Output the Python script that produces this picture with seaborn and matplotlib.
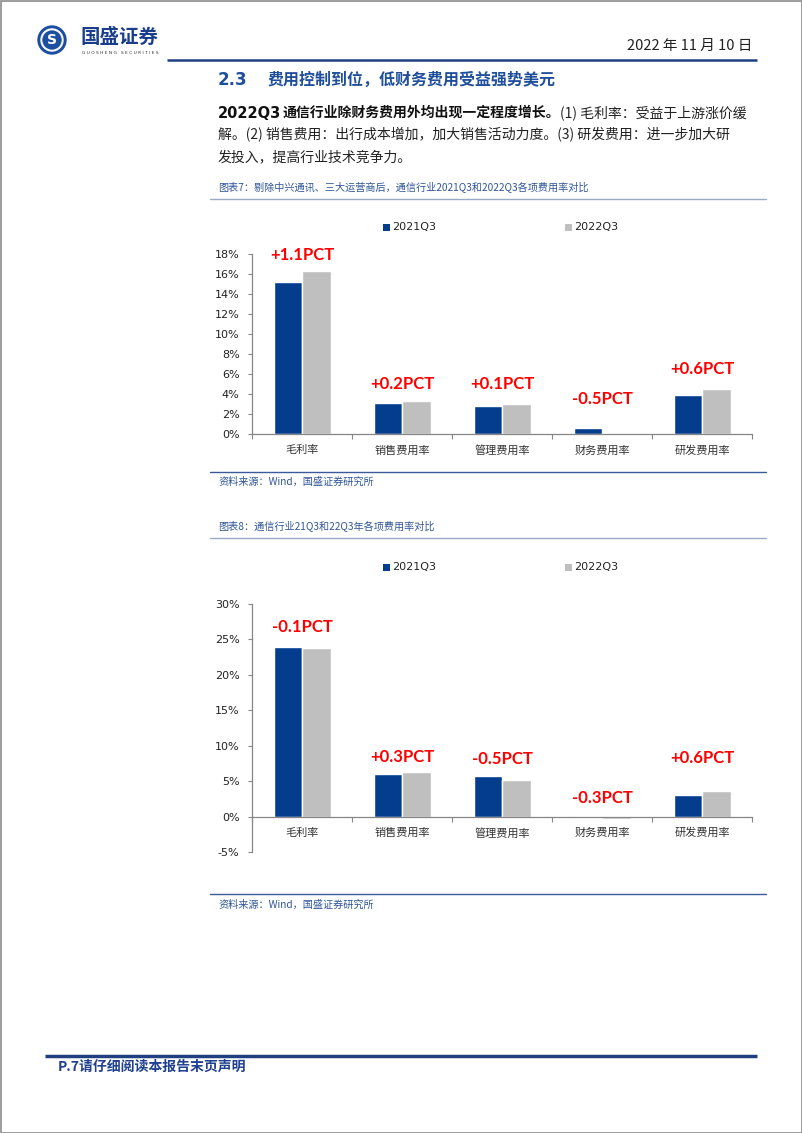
import numpy as np
import pandas as pd
import matplotlib
matplotlib.use("Agg")
import matplotlib.pyplot as plt
import seaborn as sns
from matplotlib.patches import Rectangle, Circle

# ---------------- data ----------------
ITEMS = ["毛利率", "销售费用率", "管理费用率", "财务费用率", "研发费用率"]
PERIODS = ["2021Q3", "2022Q3"]

CHART1_2021 = [15.2, 3.1, 2.85, 0.65, 3.9]
CHART1_2022 = [16.3, 3.35, 3.05, 0.15, 4.47]
CHART1_LABELS = ["+1.1PCT", "+0.2PCT", "+0.1PCT", "-0.5PCT", "+0.6PCT"]

CHART2_2021 = [24.0, 6.0, 5.75, 0.02, 3.05]
CHART2_2022 = [23.85, 6.25, 5.15, -0.3, 3.55]
CHART2_LABELS = ["-0.1PCT", "+0.3PCT", "-0.5PCT", "-0.3PCT", "+0.6PCT"]

Y1_TICKS = [0, 2, 4, 6, 8, 10, 12, 14, 16, 18]
Y2_TICKS = [-5, 0, 5, 10, 15, 20, 25, 30]

# layout-only: heights at which the PCT notes sit (in axis units)
NOTE1_Y = [17.9, 5.0, 5.0, 3.5, 6.5]
NOTE2_Y = [26.8, 8.4, 8.1, 2.6, 8.3]

# ---------------- style ----------------
sns.set_style("ticks")
plt.rcParams["font.family"] = ["Noto Sans CJK SC", "DejaVu Sans"]
plt.rcParams["axes.unicode_minus"] = False

BLUE = "#043C8E"
GREY = "#BFBFBF"
RED = "#FF0000"
NAVY = "#1F3F80"
TITLE_BLUE = "#1F4E9A"
CAP_BLUE = "#2F5597"
AXIS_GREY = "#868686"

W, H = 802, 1133
fig = plt.figure(figsize=(W / 100, H / 100), dpi=100)
fig.patch.set_facecolor("white")

# overlay axes in pixel coordinates
ax0 = fig.add_axes([0, 0, 1, 1])
ax0.set_xlim(0, W)
ax0.set_ylim(H, 0)
ax0.axis("off")

# page border
ax0.add_patch(Rectangle((0.5, 0.5), W - 1, H - 1, fill=False, ec="#8C8C8C", lw=1.2))

# ---- header ----
ax0.add_patch(Circle((52, 40), 14, color="#1D4FA0"))
ax0.add_patch(Circle((52, 40), 11, color="white"))
ax0.add_patch(Circle((52, 40), 9, color="#1D4FA0"))
ax0.text(52, 40.5, "S", color="white", fontsize=10, fontweight="bold",
         ha="center", va="center", family="DejaVu Sans")
ax0.text(81, 37, "国盛证券", fontsize=14, fontweight="bold", color="#1A3E8C",
         ha="left", va="center")
ax0.text(82, 52.5, "G U O S H E N G   S E C U R I T I E S", fontsize=3.2,
         color="#333333", ha="left", va="center", family="DejaVu Sans")
ax0.text(752, 46, "2022 年 11 月 10 日", fontsize=10.5, color="#222222",
         ha="right", va="center")
ax0.plot([167, 757], [59.5, 59.5], color=NAVY, lw=1.8, solid_capstyle="butt")

# ---- section title ----
ax0.text(218, 80, "2.3", fontsize=12, fontweight="bold", color=TITLE_BLUE,
         ha="left", va="center", family="DejaVu Sans")
ax0.text(268, 80, "费用控制到位，低财务费用受益强势美元", fontsize=11.5,
         fontweight="bold", color=TITLE_BLUE, ha="left", va="center")

# ---- paragraph ----
fig.canvas.draw()
renderer = fig.canvas.get_renderer()


def chain(x, y, s, **kw):
    t = ax0.text(x, y, s, ha="left", va="center", **kw)
    bb = t.get_window_extent(renderer=renderer)
    return bb.x1


PFS = 10
x = chain(218, 113, "2022Q3", fontsize=PFS + 0.5, fontweight="bold", color="#111111",
          family="DejaVu Sans")
x = chain(x + 1, 113, "通信行业除财务费用外均出现一定程度增长。", fontsize=PFS,
          fontweight="bold", color="#111111")
chain(x, 113, "(1) 毛利率：受益于上游涨价缓", fontsize=PFS, color="#222222")
ax0.text(218, 135, "解。(2) 销售费用：出行成本增加，加大销售活动力度。(3) 研发费用：进一步加大研",
         fontsize=PFS, color="#222222", ha="left", va="center")
ax0.text(218, 157, "发投入，提高行业技术竞争力。", fontsize=PFS, color="#222222",
         ha="left", va="center")

# ---- captions / sources ----
CAP_FS = 7.3
ax0.text(218, 187, "图表7：剔除中兴通讯、三大运营商后，通信行业2021Q3和2022Q3各项费用率对比",
         fontsize=CAP_FS, color=CAP_BLUE, ha="left", va="center")
ax0.plot([210, 766], [199, 199], color="#9AAAC6", lw=1)
ax0.plot([210, 766], [472, 472], color="#3A5A9A", lw=1)
ax0.text(218, 482, "资料来源：Wind，国盛证券研究所", fontsize=CAP_FS, color=CAP_BLUE,
         ha="left", va="center")

ax0.text(218, 526, "图表8：通信行业21Q3和22Q3年各项费用率对比",
         fontsize=CAP_FS, color=CAP_BLUE, ha="left", va="center")
ax0.plot([210, 766], [538, 538], color="#9AAAC6", lw=1)
ax0.plot([210, 766], [894, 894], color="#3A5A9A", lw=1)
ax0.text(218, 905, "资料来源：Wind，国盛证券研究所", fontsize=CAP_FS, color=CAP_BLUE,
         ha="left", va="center")

# legends (drawn from PERIODS)
for ly in (227, 567):
    for px, name, col in zip((383, 565), PERIODS, (BLUE, GREY)):
        ax0.add_patch(Rectangle((px, ly - 3.5), 7, 7, color=col, lw=0))
        ax0.text(px + 9, ly, name, fontsize=8, color="#222222", ha="left",
                 va="center", family="DejaVu Sans")

# ---- footer ----
ax0.plot([45, 757], [1055.5, 1055.5], color=NAVY, lw=2.5, solid_capstyle="butt")
ax0.text(58, 1067, "P.7请仔细阅读本报告末页声明", fontsize=10, fontweight="bold",
         color="#1F3F8F", ha="left", va="center")


# ---------------- charts ----------------
def make_df(v21, v22):
    return pd.DataFrame({
        "item": ITEMS * 2,
        "period": [PERIODS[0]] * len(ITEMS) + [PERIODS[1]] * len(ITEMS),
        "value": list(v21) + list(v22),
    })


def style_axis(ax, yticks, ylim, zero_spine):
    for s in ("top", "right"):
        ax.spines[s].set_visible(False)
    for s in ("left", "bottom"):
        ax.spines[s].set_color(AXIS_GREY)
        ax.spines[s].set_linewidth(0.9)
    if zero_spine:
        ax.spines["bottom"].set_position(("data", 0))
    ax.set_ylim(*ylim)
    ax.set_xlim(-0.5, len(ITEMS) - 0.5)
    ax.set_yticks(yticks)
    ax.set_yticklabels([f"{t}%" for t in yticks], fontsize=8, color="#222222",
                       family="DejaVu Sans")
    ax.set_xlabel("")
    ax.set_ylabel("")
    ax.set_xticks(range(len(ITEMS)))
    ax.set_xticklabels(ITEMS, fontsize=8, color="#333333")
    ax.set_xticks(np.arange(-0.5, len(ITEMS), 1.0), minor=True)
    ax.tick_params(axis="x", which="major", length=0, pad=8)
    ax.tick_params(axis="x", which="minor", length=3.5, direction="out",
                   color=AXIS_GREY, width=0.8)
    ax.tick_params(axis="y", length=3, direction="out", color=AXIS_GREY,
                   width=0.8, pad=6)
    ax.set_facecolor("none")


def notes(ax, labels, ys):
    for i, (lab, y) in enumerate(zip(labels, ys)):
        ax.text(i, y, lab, color=RED, fontsize=12, fontweight="bold",
                ha="center", va="center", family="Lato")


ax1 = fig.add_axes([252 / W, 1 - 434 / H, 500 / W, 180 / H])
sns.barplot(data=make_df(CHART1_2021, CHART1_2022), x="item", y="value",
            hue="period", palette=[BLUE, GREY], width=0.57, gap=0,
            saturation=1, legend=False, ax=ax1)
style_axis(ax1, Y1_TICKS, (0, 18), False)
notes(ax1, CHART1_LABELS, NOTE1_Y)

ax2 = fig.add_axes([252 / W, 1 - 852 / H, 500 / W, (852 - 604) / H])
sns.barplot(data=make_df(CHART2_2021, CHART2_2022), x="item", y="value",
            hue="period", palette=[BLUE, GREY], width=0.57, gap=0,
            saturation=1, legend=False, ax=ax2)
style_axis(ax2, Y2_TICKS, (-5, 30), True)
notes(ax2, CHART2_LABELS, NOTE2_Y)

fig.savefig("out.png", dpi=100, facecolor="white")
